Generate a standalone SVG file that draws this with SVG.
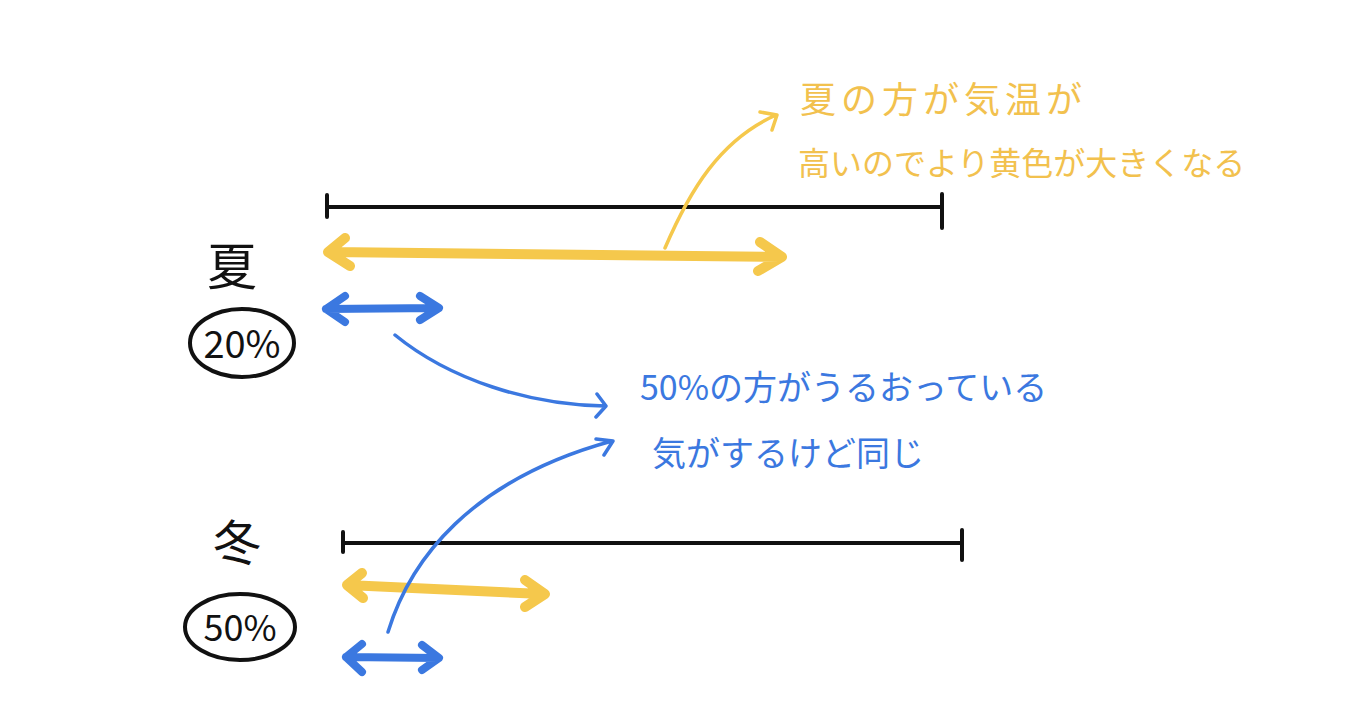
<svg xmlns="http://www.w3.org/2000/svg" width="1364" height="721" viewBox="0 0 1364 721">
<style>
.k{stroke:#111;stroke-width:4;fill:none;stroke-linecap:round;stroke-linejoin:round}
.y{stroke:#F5C84C;fill:none;stroke-linecap:round;stroke-linejoin:round}
.b{stroke:#3B78E0;fill:none;stroke-linecap:round;stroke-linejoin:round}
.t{font-family:"Noto Sans CJK JP","Noto Sans",sans-serif}
</style>
<rect width="1364" height="721" fill="#fff"/>
<g id="scale-summer"><path class="k" d="M327 207 L942 207 M327 195 L327 217 M942 194 L942 228"/></g>
<g id="scale-winter"><path class="k" d="M343 543 L962 543 M343 532 L343 552 M962 530 L962 560"/></g>
<g id="summer-label">
<text class="t" x="232" y="285" font-size="50" text-anchor="middle" fill="#111">夏</text>
<ellipse cx="242" cy="343" rx="52" ry="34" class="k" stroke-width="3.5"/>
<text class="t" x="242" y="358" font-size="38" text-anchor="middle" fill="#111">20%</text>
</g>
<g id="winter-label">
<text class="t" x="237" y="560" font-size="48" text-anchor="middle" fill="#111">冬</text>
<ellipse cx="240" cy="627" rx="55" ry="33" class="k" stroke-width="3.5"/>
<text class="t" x="240" y="641" font-size="36" text-anchor="middle" fill="#111">50%</text>
</g>
<g id="summer-bars">
<path class="y" stroke-width="10" d="M330 252 L780 257 M345 238 L328 252 L350 266 M760 242 L782 257 L758 271"/>
<path class="b" stroke-width="8" d="M326 309 L438 308 M345 296 L326 309 L345 322 M420 296 L439 308 L420 320"/>
</g>
<g id="winter-bars">
<path class="y" stroke-width="10" d="M347 585 L543 594 M362 573 L347 585 L363 598 M525 580 L545 594 L525 607"/>
<path class="b" stroke-width="8" d="M346 657 L438 658 M362 644 L346 657 L362 672 M422 645 L439 658 L422 670"/>
</g>
<g id="connectors">
<path class="y" stroke-width="3.5" d="M665 248 C690 190 720 140 776 115 M760 112 L777 115 L772 130"/>
<path class="b" stroke-width="3.5" d="M395 335 C450 380 530 405 605 406 M597 394 L606 406 L596 417"/>
<path class="b" stroke-width="3.5" d="M388 632 C410 560 470 480 612 441 M596 439 L613 441 L604 455"/>
</g>
<g id="note-summer">
<text class="t" x="800" y="113" font-size="36" letter-spacing="5" fill="#F2C14E">夏の方が気温が</text>
<text class="t" x="798" y="175" font-size="32" fill="#F2C14E">高いのでより黄色が大きくなる</text>
</g>
<g id="note-common">
<text class="t" x="640" y="400" font-size="34" fill="#3B78E0">50%の方がうるおっている</text>
<text class="t" x="652" y="466" font-size="34" fill="#3B78E0">気がするけど同じ</text>
</g>
</svg>
